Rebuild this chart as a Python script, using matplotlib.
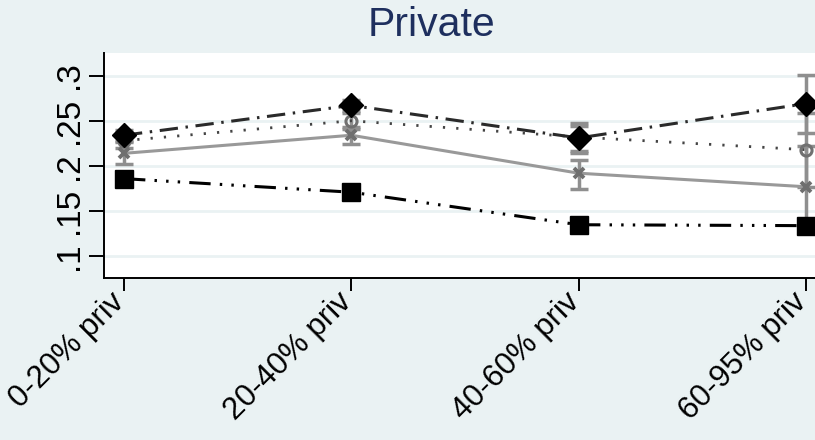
import numpy as np
import matplotlib
matplotlib.use("Agg")
from matplotlib import pyplot as plt
from matplotlib.transforms import ScaledTranslation

plt.rcParams['font.family'] = ['Liberation Sans', 'DejaVu Sans']

# categories on the x axis
groups = ['0-20% priv', '20-40% priv', '40-60% priv', '60-95% priv']
yticks = [0.1, 0.15, 0.2, 0.25, 0.3]
ylabels = ['.1', '.15', '.2', '.25', '.3']

# series estimates
diamond = [0.234, 0.267, 0.231, 0.269]
circle = [0.228, 0.250, 0.232, 0.218]
cross = [0.214, 0.234, 0.192, 0.177]
square = [0.186, 0.171, 0.135, 0.134]

# confidence bounds
diamond_lo = [0.228, 0.261, 0.217, 0.237]
diamond_hi = [0.240, 0.273, 0.247, 0.301]
circle_lo = [0.220, 0.241, 0.214, 0.177]
circle_hi = [0.236, 0.259, 0.244, 0.259]
cross_lo = [0.202, 0.224, 0.175, 0.134]
cross_hi = [0.226, 0.243, 0.207, 0.222]

bg = '#eaf2f3'
gray = '#8f8f8f'

fig = plt.figure(figsize=(8.15, 4.4), dpi=100, facecolor=bg)
ax = fig.add_axes([0.1276, 0.3682, 0.886, 0.5114])
ax.set_facecolor('white')

x = np.arange(len(groups))

#grid lines behind everything
for t in yticks:
    ax.axhline(t, color=bg, lw=2, zorder=0)

#confidence caps
def caps(est, lo, hi):
    est = np.array(est)
    err = [est - np.array(lo), np.array(hi) - est]
    ax.errorbar(x, est, yerr=err, fmt='none', ecolor=gray, elinewidth=2.5,
                capsize=6.5, capthick=2.5, zorder=2)

caps(diamond, diamond_lo, diamond_hi)
caps(circle, circle_lo, circle_hi)
caps(cross, cross_lo, cross_hi)

#lines and markers
ax.plot(x, cross, color='#999999', lw=2.2, zorder=3)
ax.plot(x, cross, 'x', color='#6f6f6f', ms=6.5, mew=2.8, zorder=4)
ax.plot(x, circle, color='#444444', lw=2, dashes=(0.8, 4), zorder=3)
ax.plot(x, circle, 'o', mfc='none', mec='#707070', ms=8, mew=2.2, zorder=4)
ax.plot(x, diamond, color='#2a2a2a', lw=2.2, dashes=(6, 2.5, 0.8, 2.5), zorder=3)
ax.plot(x, diamond, 'D', color='black', ms=12.5, zorder=5)
ax.plot(x, square, color='black', lw=2.2,
        dashes=(7, 3, 0.8, 3, 0.8, 3, 0.8, 3), zorder=3)
ax.plot(x, square, 's', color='black', ms=13.5, zorder=5)

ax.set_xlim(-0.088, 3.088)
ax.set_ylim(0.0761, 0.325)

ax.set_yticks(yticks)
ax.set_yticklabels(ylabels, rotation=90, va='center', fontsize=24)
ax.set_xticks(x)
ax.set_xticklabels(groups, rotation=45, ha='right', va='center',
                   rotation_mode='anchor', fontsize=22.5)
ax.tick_params(axis='y', length=11, width=1.4, pad=3)
ax.tick_params(axis='x', length=9, width=1.4, pad=5)

# nudge the slanted labels a little to the left so the last one fits
shift = ScaledTranslation(-4 / 100, 0, fig.dpi_scale_trans)
for lab in ax.get_xticklabels():
    lab.set_transform(lab.get_transform() + shift)

for s in ['top', 'right']:
    ax.spines[s].set_visible(False)
ax.spines['left'].set_linewidth(1.4)
ax.spines['bottom'].set_linewidth(1.4)

fig.text(0.529, 0.943, 'Private', ha='center', va='center',
         fontsize=29.5, color='#1e2f5e')

fig.savefig('out.png', dpi=100, facecolor=bg)
